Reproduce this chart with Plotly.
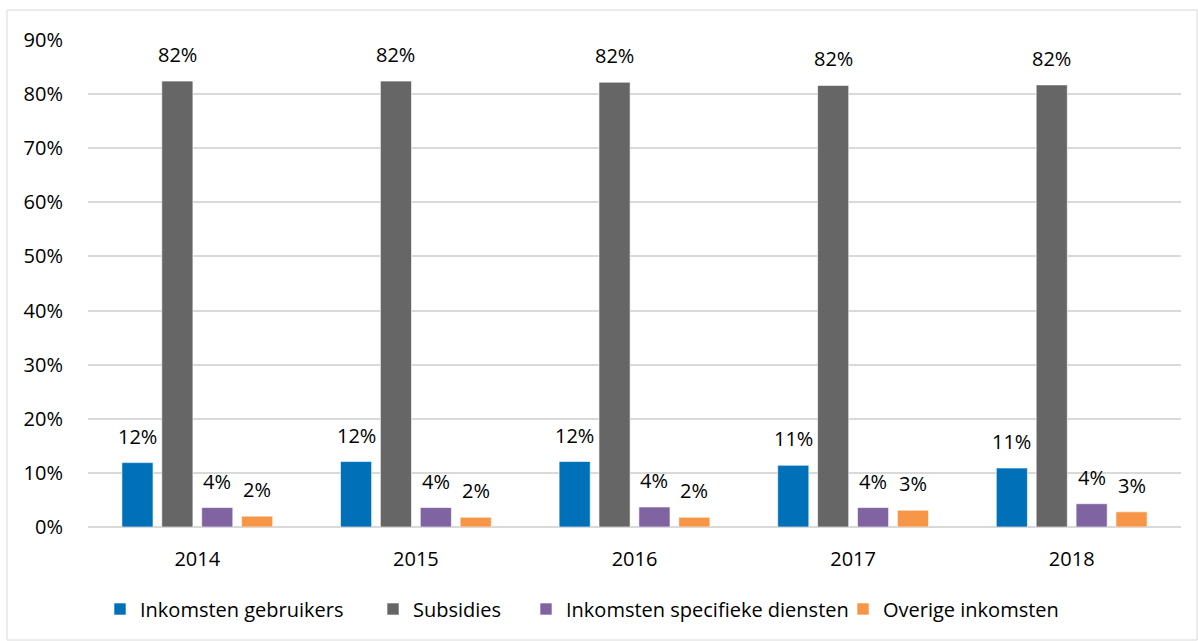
import plotly.graph_objects as go

years = ["2014", "2015", "2016", "2017", "2018"]
series_names = ["Inkomsten gebruikers", "Subsidies", "Inkomsten specifieke diensten", "Overige inkomsten"]
inkomsten_gebruikers = [11.9, 12.1, 12.1, 11.4, 10.9]
subsidies = [82.4, 82.4, 82.2, 81.6, 81.7]
inkomsten_specifiek = [3.6, 3.6, 3.7, 3.6, 4.3]
overige_inkomsten = [2.0, 1.8, 1.8, 3.1, 2.8]
colors = ["#0070B8", "#666666", "#8064A2", "#F79646"]
y_ticks = list(range(0, 91, 10))
y_ticktext = [f"{v}%" for v in y_ticks]

values = [inkomsten_gebruikers, subsidies, inkomsten_specifiek, overige_inkomsten]

FONT = "Open Sans, sans-serif"
FS = 20
bargap = 0.27
bargroupgap = 0.22

L, R, T, B = 88, 17, 40, 114
W, H = 1198, 641
pw, ph = W - L - R, H - T - B

legend_ids = ["legend", "legend2", "legend3", "legend4"]
legend_text_x = [140, 413, 566, 883]  # pixel where each legend entry text starts

fig = go.Figure()
for name, vals, col, lid in zip(series_names, values, colors, legend_ids):
    fig.add_trace(go.Bar(
        x=years, y=vals, name=name, legend=lid,
        marker=dict(color=col, line=dict(color="rgba(255,255,255,0.6)", width=1)),
    ))

# data labels above the bars
slot = (1 - bargap) / len(values)
for k, vals in enumerate(values):
    for i, v in enumerate(vals):
        fig.add_annotation(
            x=i + (k - (len(values) - 1) / 2) * slot, y=v,
            xref="x", yref="y",
            text=f"{int(v + 0.5)}%", showarrow=False,
            yanchor="bottom", yshift=11,
            font=dict(family=FONT, size=FS, color="#000000"),
        )

fig.add_shape(
    type="rect", xref="paper", yref="paper",
    x0=(7 - L) / pw, x1=(1197 - L) / pw,
    y0=-(640 - T - ph) / ph, y1=(ph + T - 10) / ph,
    line=dict(color="#D9D9D9", width=1), layer="below",
)

legend_layout = {}
for lid, tx in zip(legend_ids, legend_text_x):
    legend_layout[lid] = dict(
        orientation="h", x=(tx - 40 - L) / pw, xanchor="left",
        y=-(609 - T - ph) / ph, yanchor="middle",
        font=dict(family=FONT, size=FS, color="#000000"),
        itemwidth=30, bgcolor="rgba(0,0,0,0)", borderwidth=0,
    )

fig.update_layout(
    width=W, height=H,
    margin=dict(l=L, r=R, t=T, b=B),
    paper_bgcolor="white", plot_bgcolor="white",
    barmode="group", bargap=bargap, bargroupgap=bargroupgap,
    font=dict(family=FONT, size=FS, color="#000000"),
    showlegend=True,
    xaxis=dict(
        type="category", showgrid=False, showline=False, zeroline=False,
        ticks="outside", ticklen=14, tickcolor="rgba(0,0,0,0)",
        tickfont=dict(family=FONT, size=FS),
    ),
    yaxis=dict(
        range=[0, 90], tickmode="array", tickvals=y_ticks, ticktext=y_ticktext,
        showgrid=True, gridcolor="#D9D9D9", gridwidth=1.5,
        zeroline=True, zerolinecolor="#D9D9D9", zerolinewidth=1.5,
        showline=False,
        ticks="outside", ticklen=20, tickcolor="rgba(0,0,0,0)",
        tickfont=dict(family=FONT, size=FS),
    ),
    **legend_layout,
)

fig.write_html("out.html", config={"displayModeBar": False},
               post_script="document.body.style.margin='0';")
